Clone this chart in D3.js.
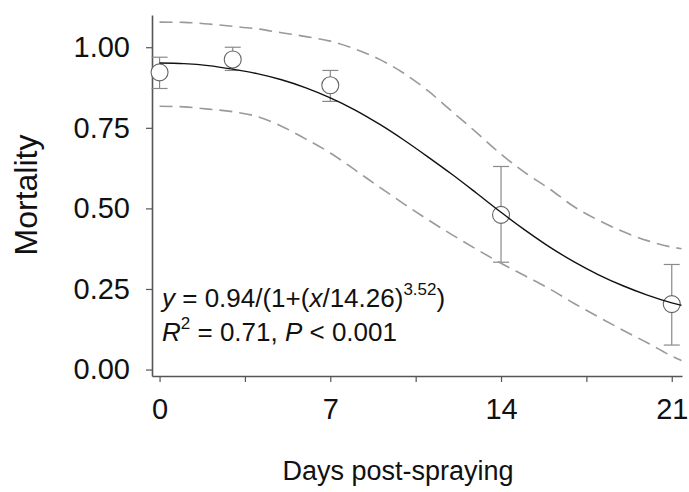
<!DOCTYPE html>
<html>
<head>
<meta charset="utf-8">
<script src="https://cdn.jsdelivr.net/npm/d3@7"></script>
<style>
    body { margin: 0; background: #fff; }
    svg text { font-family: "Liberation Sans", Arial, sans-serif; fill: #111; }
</style>
</head>
<body>
<div id="chart"></div>
<script>
// ---------------------------------------------------------------------------- //
//                                     Data                                     //
// ---------------------------------------------------------------------------- //
var days      = [0, 3, 7, 14, 21];
var mortality = [0.922, 0.962, 0.882, 0.48, 0.203];
var errTop    = [0.969, 1.0, 0.928, 0.63, 0.326];
var errBottom = [0.872, 0.928, 0.832, 0.333, 0.076];

// fitted curve + confidence band
var curveDays  = [0, 1, 2, 3, 4, 5, 6, 7, 8, 9, 10, 11, 12, 13, 14, 15, 16, 17, 18, 19, 20, 21, 21.4];
var fitCurve   = [0.951, 0.949, 0.943, 0.932, 0.918, 0.899, 0.874, 0.843, 0.806, 0.762, 0.713, 0.66,
                  0.605, 0.547, 0.488, 0.432, 0.38, 0.334, 0.294, 0.26, 0.231, 0.207, 0.199];
var upperBand  = [1.078, 1.077, 1.072, 1.065, 1.057, 1.045, 1.033, 1.019, 0.995, 0.963, 0.92, 0.865,
                  0.80, 0.735, 0.668, 0.61, 0.56, 0.505, 0.463, 0.428, 0.40, 0.38, 0.375];
var lowerBand  = [0.817, 0.815, 0.808, 0.80, 0.785, 0.755, 0.715, 0.672, 0.62, 0.567, 0.515, 0.465,
                  0.418, 0.373, 0.33, 0.29, 0.25, 0.205, 0.163, 0.122, 0.083, 0.042, 0.028];

var xTicks      = [0, 7, 14, 21];
var xMinorTicks = [3.5, 10.5, 17.5];
var yTicks      = [0, 0.25, 0.5, 0.75, 1.0];

// ---------------------------------------------------------------------------- //
//                                    Chart                                     //
// ---------------------------------------------------------------------------- //
var W = 689, H = 492;
var AXIS_COLOR = "#555";
var TICK_FONT = 29;

var svg = d3.select("#chart").append("svg")
    .attr("width", W)
    .attr("height", H);

// Scales
//_______________
var x = d3.scaleLinear().domain([-0.31, 21.42]).range([152, 682]);
var y = d3.scaleLinear().domain([-0.02, 1.10]).range([376, 15]);

// Axes
//_______________
var xAxis = svg.append("g")
    .attr("transform", "translate(0," + y.range()[0] + ")")
    .call(d3.axisBottom(x).tickValues(xTicks).tickSize(6).tickSizeOuter(0).tickPadding(16).tickFormat(d3.format("d")));

var xMinor = svg.append("g")
    .attr("transform", "translate(0," + y.range()[0] + ")")
    .call(d3.axisBottom(x).tickValues(xMinorTicks).tickSize(6).tickSizeOuter(0).tickFormat(""));
xMinor.select(".domain").remove();

var yAxis = svg.append("g")
    .attr("transform", "translate(" + x.range()[0] + ",0)")
    .call(d3.axisLeft(y).tickValues(yTicks).tickSize(6).tickSizeOuter(0).tickPadding(16).tickFormat(d3.format(".2f")));

[xAxis, xMinor, yAxis].forEach(function(g){
    g.selectAll(".domain").attr("stroke", AXIS_COLOR).attr("stroke-width", 1.6);
    g.selectAll(".tick line").attr("stroke", AXIS_COLOR).attr("stroke-width", 1.2);
    g.selectAll(".tick text").attr("font-size", TICK_FONT).attr("fill", "#111");
});

// Axis labels
//_______________
svg.append("text")
    .attr("x", 398).attr("y", 480)
    .attr("text-anchor", "middle")
    .attr("font-size", 27)
    .text("Days post-spraying");

svg.append("text")
    .attr("transform", "translate(37,195) rotate(-90)")
    .attr("text-anchor", "middle")
    .attr("font-size", 32)
    .text("Mortality");

// line generator over the curve days
var line = function(vals){
    return d3.line()
        .x(function(d, i){ return x(curveDays[i]); })
        .y(function(d){ return y(d); })
        .curve(d3.curveMonotoneX)(vals);
};

// Error bars
//_______________
var capHalf = 8;
var eb = svg.append("g").attr("stroke", "#8a8a8a").attr("stroke-width", 1.2);
days.forEach(function(d, i){
    eb.append("line").attr("x1", x(d)).attr("x2", x(d)).attr("y1", y(errTop[i])).attr("y2", y(errBottom[i]));
    eb.append("line").attr("x1", x(d) - capHalf).attr("x2", x(d) + capHalf).attr("y1", y(errTop[i])).attr("y2", y(errTop[i]));
    eb.append("line").attr("x1", x(d) - capHalf).attr("x2", x(d) + capHalf).attr("y1", y(errBottom[i])).attr("y2", y(errBottom[i]));
});

// Points
//_______________
svg.append("g").selectAll("circle")
    .data(days)
    .join("circle")
    .attr("cx", function(d){ return x(d); })
    .attr("cy", function(d, i){ return y(mortality[i]); })
    .attr("r", 8.5)
    .attr("fill", "#fff")
    .attr("stroke", "#666")
    .attr("stroke-width", 1.1);

// Fit + bands
//_______________
[upperBand, lowerBand].forEach(function(b){
    svg.append("path")
        .attr("d", line(b))
        .attr("fill", "none")
        .attr("stroke", "#9a9a9a")
        .attr("stroke-width", 1.6)
        .attr("stroke-dasharray", "13,7");
});

svg.append("path")
    .attr("d", line(fitCurve))
    .attr("fill", "none")
    .attr("stroke", "#111")
    .attr("stroke-width", 1.4);

// Equation
//_______________
var eq = svg.append("text").attr("x", 162).attr("y", 307).attr("font-size", 26);
eq.append("tspan").attr("font-style", "italic").text("y");
eq.append("tspan").text(" = 0.94/(1+(");
eq.append("tspan").attr("font-style", "italic").text("x");
eq.append("tspan").text("/14.26)");
eq.append("tspan").attr("font-size", 17).attr("dy", -12).text("3.52");
eq.append("tspan").attr("dy", 12).text(")");

var r2 = svg.append("text").attr("x", 162).attr("y", 341).attr("font-size", 26);
r2.append("tspan").attr("font-style", "italic").text("R");
r2.append("tspan").attr("font-size", 17).attr("dy", -12).text("2");
r2.append("tspan").attr("dy", 12).text(" = 0.71, ");
r2.append("tspan").attr("font-style", "italic").text("P");
r2.append("tspan").text(" < 0.001");
</script>
</body>
</html>
